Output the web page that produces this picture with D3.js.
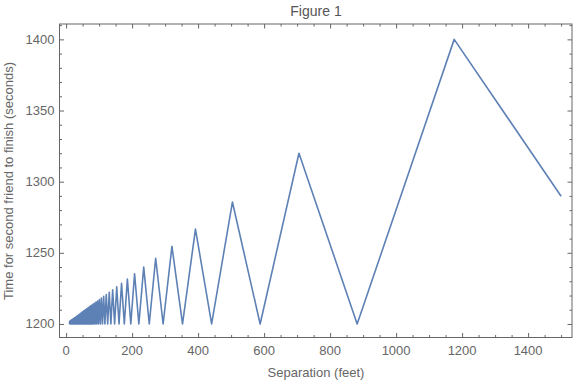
<!DOCTYPE html>
<html><head><meta charset="utf-8">
<script src="https://cdn.jsdelivr.net/npm/d3@7/dist/d3.min.js"></script>
<style>body{margin:0;background:#fff}svg{display:block}</style>
</head><body><svg id="c" width="576" height="383"></svg>
<script>
// Vertices of the zigzag curve (separation in feet, time in seconds)
const separationFeet = [
  10,11,12,13,14,15,16,17,18,19,20,21,22,23,24,25,26,27,28,29,30,31,32,33,34,35,36,37,38,39,40,41,42,43,44,45,46,47,48,49,50,51,52,53,54,55,56.9,
  57.8,58.8,59.8,60.8,61.9,63.0,64.1,65.3,66.6,67.8,69.2,70.6,72.0,73.5,75.1,76.7,78.4,80.2,82.0,84.0,86.0,88.2,90.5,92.8,95.4,98.0,100.8,103.8,106.9,110.25,113.8,117.6,121.7,126.0,130.7,135.7,141.1,147.0,153.4,160.4,168.0,176.4,185.7,196.0,207.5,220.5,235.2,252.0,271.4,294.0,320.7,352.8,392.0,441.0,504.0,588.0,705.6,882.0,1176.0,1500
];
const finishTimeSec = [
  1200,1201.9,1200,1202.2,1200,1202.6,1200,1202.9,1200,1203.2,1200,1203.6,1200,1203.9,1200,1204.3,1200,1204.6,1200,1204.9,1200,1205.3,1200,1205.6,1200,1206.0,1200,1206.3,1200,1206.6,1200,1207.0,1200,1207.3,1200,1207.7,1200,1208.0,1200,1208.3,1200,1208.7,1200,1209.0,1200,1209.4,1200,
  1209.8,1200,1210.2,1200,1210.5,1200,1210.9,1200,1211.3,1200,1211.8,1200,1212.2,1200,1212.8,1200,1213.3,1200,1214.0,1200,1214.6,1200,1215.4,1200,1216.2,1200,1217.1,1200,1218.2,1200,1219.4,1200,1220.7,1200,1222.2,1200,1224.0,1200,1226.1,1200,1228.6,1200,1231.6,1200,1235.3,1200,1240.0,1200,1246.2,1200,1254.5,1200,1266.7,1200,1285.7,1200,1320.0,1200,1400.0,1289.8
];
const xTickLabels = [0,200,400,600,800,1000,1200,1400];
const yTickLabels = [1200,1250,1300,1350,1400];

const data = separationFeet.map((x,i)=>({x, y: finishTimeSec[i]}));
const svg = d3.select('#c');
const L=59.5, R=572, T=24, B=337.5;
const x = d3.scaleLinear().domain([-20,1533]).range([L,R]);
const y = d3.scaleLinear().domain([1190.5,1410.8]).range([B,T]);
const frameCol = '#666', textCol = '#666';
const font = '"Liberation Sans", Arial, sans-serif';

// Curve
svg.append('path').datum(data)
  .attr('fill','none').attr('stroke','#5e81b5').attr('stroke-width',1.6)
  .attr('stroke-linejoin','round')
  .attr('d', d3.line().x(d=>x(d.x)).y(d=>y(d.y)));

// ticks
const xMinor = d3.range(0,1501,50).filter(v=>v%200!==0);
const yMinor = d3.range(1200,1411,10).filter(v=>v%50!==0);
function axisFor(orient){
  return orient==='bottom'?d3.axisTop:orient==='top'?d3.axisBottom:orient==='left'?d3.axisRight:d3.axisLeft;
}
function axisTicks(g, scale, orient, major, minor){
  g.append('g').call(axisFor(orient)(scale).tickValues(minor).tickSize(2.5).tickFormat(''));
  g.append('g').call(axisFor(orient)(scale).tickValues(major).tickSize(4.5).tickFormat(''));
  g.selectAll('.domain').remove();
  g.selectAll('line').attr('stroke',frameCol).attr('stroke-width',1);
}
axisTicks(svg.append('g').attr('transform',`translate(0,${B})`), x, 'bottom', xTickLabels, xMinor);
axisTicks(svg.append('g').attr('transform',`translate(0,${T})`), x, 'top', xTickLabels, xMinor);
axisTicks(svg.append('g').attr('transform',`translate(${L},0)`), y, 'left', yTickLabels, yMinor);
axisTicks(svg.append('g').attr('transform',`translate(${R},0)`), y, 'right', yTickLabels, yMinor);

// frame
svg.append('rect').attr('x',L).attr('y',T).attr('width',R-L).attr('height',B-T)
  .attr('fill','none').attr('stroke',frameCol).attr('stroke-width',1);

// tick labels
svg.append('g').selectAll('text').data(xTickLabels).join('text')
  .attr('x',d=>x(d)).attr('y',B+17).attr('text-anchor','middle')
  .attr('font-family',font).attr('font-size',13).attr('fill',textCol).text(d=>d);
svg.append('g').selectAll('text').data(yTickLabels).join('text')
  .attr('x',L-5).attr('y',d=>y(d)+4.5).attr('text-anchor','end')
  .attr('font-family',font).attr('font-size',13).attr('fill',textCol).text(d=>d);

// titles
svg.append('text').attr('x',316).attr('y',16).attr('text-anchor','middle')
  .attr('font-family',font).attr('font-size',14).attr('fill','#555').text('Figure 1');
svg.append('text').attr('x',316).attr('y',377).attr('text-anchor','middle')
  .attr('font-family',font).attr('font-size',13).attr('fill',textCol).text('Separation (feet)');
svg.append('text').attr('transform',`translate(13,181) rotate(-90)`).attr('text-anchor','middle')
  .attr('font-family',font).attr('font-size',13).attr('fill',textCol).text('Time for second friend to finish (seconds)');
</script></body></html>
